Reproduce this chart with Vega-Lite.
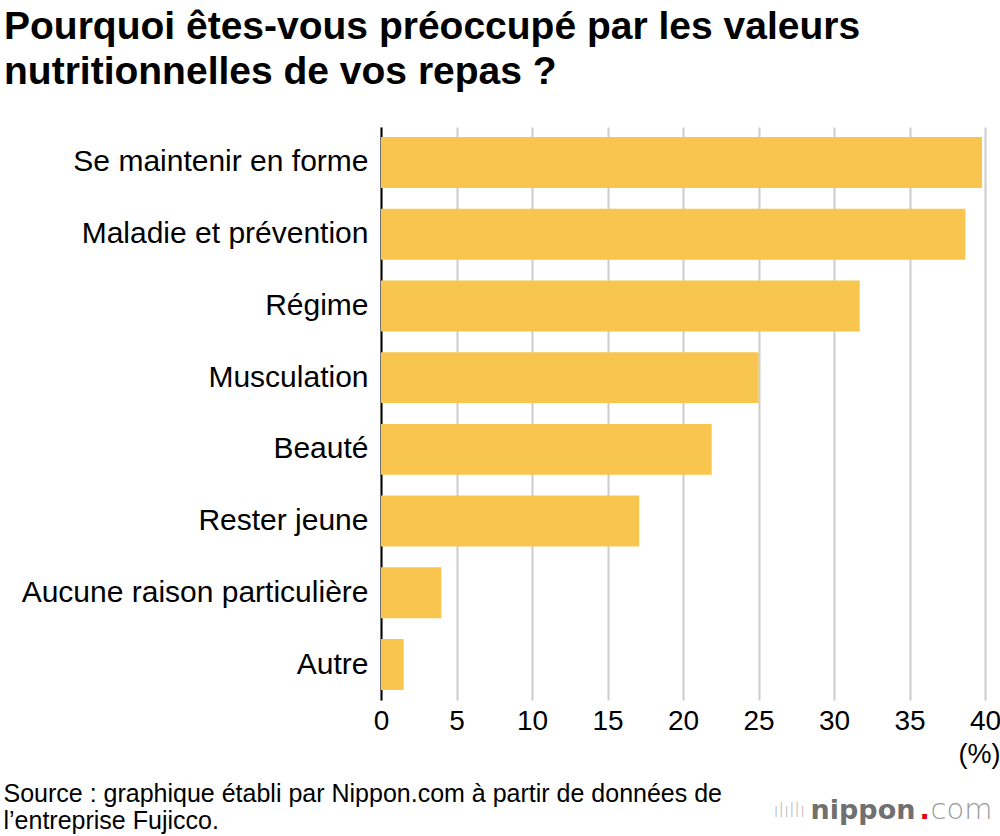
{
  "$schema": "https://vega.github.io/schema/vega-lite/v6.json",
  "width": 604,
  "height": 573,
  "autosize": {"type": "none"},
  "padding": {"left": 381, "top": 127, "right": 15, "bottom": 136},
  "background": "white",
  "title": {
    "text": ["Pourquoi êtes-vous préoccupé par les valeurs", "nutritionnelles de vos repas ?"],
    "anchor": "start",
    "frame": "group",
    "dx": -377,
    "offset": 35,
    "font": "Liberation Sans",
    "fontSize": 39,
    "fontWeight": "bold",
    "color": "#000000",
    "lineHeight": 45
  },
  "data": {
    "values": [
      {"raison": "Se maintenir en forme", "pct": 39.8},
      {"raison": "Maladie et prévention", "pct": 38.7},
      {"raison": "Régime", "pct": 31.7},
      {"raison": "Musculation", "pct": 25.0},
      {"raison": "Beauté", "pct": 21.9},
      {"raison": "Rester jeune", "pct": 17.1},
      {"raison": "Aucune raison particulière", "pct": 4.0},
      {"raison": "Autre", "pct": 1.5}
    ]
  },
  "resolve": {"axis": {"y": "independent"}},
  "layer": [
    {
      "mark": {"type": "bar", "color": "#F8C54F"},
      "encoding": {
        "y": {
          "field": "raison",
          "type": "nominal",
          "sort": null,
          "scale": {"paddingInner": 0.29, "paddingOuter": 0.14},
          "axis": {
            "orient": "left",
            "title": ["Source : graphique établi par Nippon.com à partir de données de", "l’entreprise Fujicco."],
            "titleX": -378,
            "titleY": 674,
            "titleAngle": 0,
            "titleAlign": "left",
            "titleBaseline": "alphabetic",
            "titleFont": "Liberation Sans",
            "titleFontSize": 25,
            "titleFontWeight": "normal",
            "titleColor": "#000000",
            "titleLineHeight": 27,
            "labelFont": "Liberation Sans",
            "labelFontSize": 30,
            "labelColor": "#000000",
            "labelPadding": 13,
            "labelLimit": 400,
            "ticks": false,
            "domain": true,
            "domainColor": "#000000",
            "domainWidth": 2,
            "grid": false
          }
        },
        "x": {
          "field": "pct",
          "type": "quantitative",
          "scale": {"domain": [0, 40], "nice": false},
          "axis": {
            "orient": "bottom",
            "values": [0, 5, 10, 15, 20, 25, 30, 35, 40],
            "title": "(%)",
            "titleX": 619,
            "titleY": 54,
            "titleAlign": "right",
            "titleBaseline": "middle",
            "titleAnchor": null,
            "titleFont": "Liberation Sans",
            "titleFontSize": 27,
            "titleFontWeight": "normal",
            "titleColor": "#000000",
            "labelFont": "Liberation Sans",
            "labelFontSize": 28,
            "labelColor": "#000000",
            "labelPadding": 7,
            "labelFlush": false,
            "labelBaseline": "top",
            "ticks": false,
            "domain": false,
            "grid": true,
            "gridColor": "#cccccc",
            "gridWidth": 2
          }
        }
      }
    },
    {
      "mark": {"type": "bar", "opacity": 0},
      "encoding": {
        "y": {
          "field": "raison",
          "type": "nominal",
          "sort": null,
          "axis": {
            "orient": "right",
            "labels": false,
            "ticks": false,
            "domain": false,
            "grid": false,
            "title": "nippon",
            "titleX": -175,
            "titleY": 691,
            "titleAngle": 0,
            "titleAlign": "left",
            "titleBaseline": "alphabetic",
            "titleFont": "DejaVu Sans",
            "titleFontSize": 27,
            "titleFontWeight": "bold",
            "titleColor": "#707070"
          }
        }
      }
    },
    {
      "mark": {"type": "bar", "opacity": 0},
      "encoding": {
        "y": {
          "field": "raison",
          "type": "nominal",
          "sort": null,
          "axis": {
            "orient": "right",
            "labels": false,
            "ticks": false,
            "domain": false,
            "grid": false,
            "title": ".",
            "titleX": -66,
            "titleY": 691,
            "titleAngle": 0,
            "titleAlign": "left",
            "titleBaseline": "alphabetic",
            "titleFont": "DejaVu Sans",
            "titleFontSize": 27,
            "titleFontWeight": "bold",
            "titleColor": "#E60012"
          }
        }
      }
    },
    {
      "mark": {"type": "bar", "opacity": 0},
      "encoding": {
        "y": {
          "field": "raison",
          "type": "nominal",
          "sort": null,
          "axis": {
            "orient": "right",
            "labels": false,
            "ticks": false,
            "domain": false,
            "grid": false,
            "title": "com",
            "titleX": -55,
            "titleY": 691,
            "titleAngle": 0,
            "titleAlign": "left",
            "titleBaseline": "alphabetic",
            "titleFont": "DejaVu Sans",
            "titleFontSize": 29,
            "titleFontWeight": 200,
            "titleColor": "#9a9a9a"
          }
        }
      }
    },
    {
      "mark": {"type": "bar", "opacity": 0},
      "encoding": {
        "y": {
          "field": "raison",
          "type": "nominal",
          "sort": null,
          "axis": {
            "orient": "right",
            "labels": false,
            "ticks": false,
            "domain": false,
            "grid": false,
            "title": "ılıllı",
            "titleX": -212,
            "titleY": 689,
            "titleAngle": 0,
            "titleAlign": "left",
            "titleBaseline": "alphabetic",
            "titleFont": "DejaVu Sans",
            "titleFontSize": 19,
            "titleFontWeight": 200,
            "titleColor": "#b5b5b5"
          }
        }
      }
    }
  ],
  "config": {"view": {"stroke": null}}
}
